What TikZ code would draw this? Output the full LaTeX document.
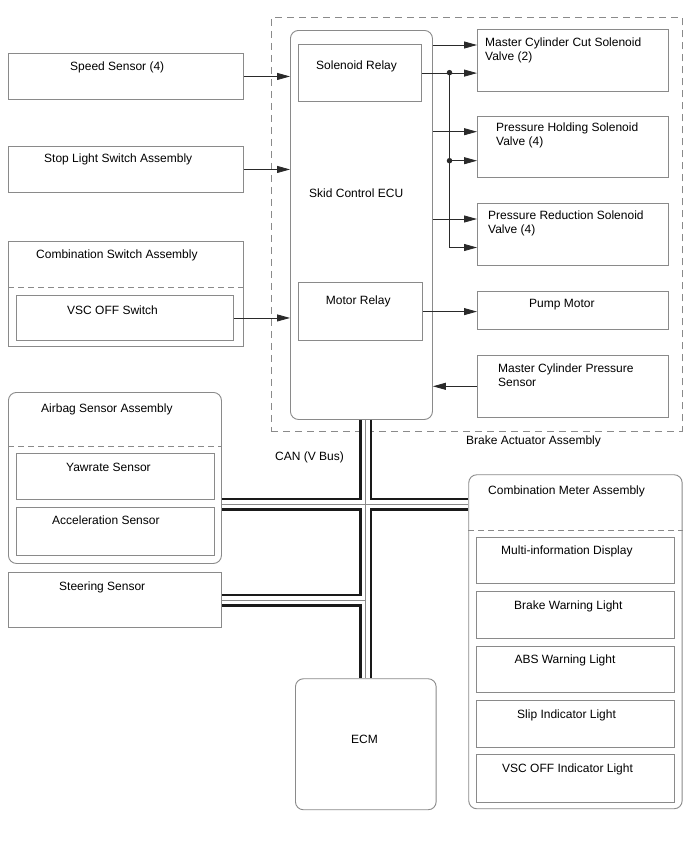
\documentclass[tikz,border=0pt]{standalone}
\usepackage{fontspec}
\setmainfont{Liberation Sans}
\usetikzlibrary{arrows.meta}
\definecolor{boxgray}{HTML}{8A8A8A}
\definecolor{wiregray}{HTML}{2A2A2A}
\definecolor{busblack}{HTML}{1A1A1A}
\tikzset{
  plainbox/.style={draw=boxgray, line width=0.9pt, anchor=north west, inner sep=0pt},
  roundbox/.style={plainbox, rounded corners=8pt},
  dashbox/.style={plainbox, dash pattern=on 7pt off 5pt},
  sepline/.style={draw=boxgray, line width=0.9pt, dash pattern=on 6pt off 4pt},
  lbl/.style={font=\fontsize{12}{14}\selectfont, inner sep=0pt, anchor=base west},
  mlbl/.style={lbl, anchor=north west, align=left},
  arr/.style={-{Triangle[length=13pt,width=7pt]}, line width=0.8pt, color=wiregray},
  jdot/.style={circle, fill=wiregray, inner sep=0pt, minimum size=5.5pt},
  busout/.style={line width=13pt, color=busblack},
  busin/.style={line width=8pt, color=white},
  busmid/.style={line width=0.7pt, color=boxgray}}
\begin{document}
\begin{tikzpicture}[x=1pt, y=-1pt]
        \path[use as bounding box, fill=white] (0,0) rectangle (688,852);
        % inputs on the left
        \node[plainbox, minimum width=235, minimum height=46] (speed) at (8,53) {};
        \node[lbl] (speedlbl) at (70,70.5) {Speed Sensor (4)};
        \node[plainbox, minimum width=235, minimum height=46] (stop) at (8,146) {};
        \node[lbl] (stoplbl) at (44,162.5) {Stop Light Switch Assembly};
        \node[plainbox, minimum width=235, minimum height=105] (combsw) at (8,240.5) {};
        \node[lbl] (combswlbl) at (36,258.5) {Combination Switch Assembly};
        \draw[sepline] ([yshift=-46.5pt]combsw.north west) -- ([yshift=-46.5pt]combsw.north east);
        \node[plainbox, minimum width=217, minimum height=45] (vscsw) at (16,295) {};
        \node[lbl] (vscswlbl) at (67,314) {VSC OFF Switch};
        % brake actuator
        \node[dashbox, minimum width=410.5, minimum height=413.5] (actuator) at (271,17) {};
        \node[lbl] (actuatorlbl) at (466,444.5) {Brake Actuator Assembly};
        \node[roundbox, minimum width=142, minimum height=389] (ecu) at (290,30) {};
        \node[lbl] (eculbl) at (309,197) {Skid Control ECU};
        \node[plainbox, minimum width=122.7, minimum height=56.7] (solrelay) at (298.3,44.3) {};
        \node[lbl] (solrelaylbl) at (316,69.5) {Solenoid Relay};
        \node[plainbox, minimum width=123.4, minimum height=57.7] (motorrelay) at (298.3,282.3) {};
        \node[lbl] (motorrelaylbl) at (325.7,304.3) {Motor Relay};
        \node[plainbox, minimum width=190.5, minimum height=62] (mccut) at (477,29) {};
        \node[mlbl] (mccutlbl) at (485,37.2) {Master Cylinder Cut Solenoid\\Valve (2)};
        \node[plainbox, minimum width=190.5, minimum height=61] (phold) at (477,115.7) {};
        \node[mlbl] (pholdlbl) at (496,122.8) {Pressure Holding Solenoid\\Valve (4)};
        \node[plainbox, minimum width=191, minimum height=62.3] (pred) at (476.5,202.7) {};
        \node[mlbl] (predlbl) at (488,210.5) {Pressure Reduction Solenoid\\Valve (4)};
        \node[plainbox, minimum width=190.7, minimum height=38] (pump) at (477,290.7) {};
        \node[lbl] (pumplbl) at (529,307.6) {Pump Motor};
        \node[plainbox, minimum width=190.7, minimum height=61.7] (mcps) at (477,355) {};
        \node[mlbl] (mcpslbl) at (498,363.8) {Master Cylinder Pressure\\Sensor};
        % CAN side
        \node[roundbox, minimum width=213, minimum height=171] (airbag) at (8,392) {};
        \node[lbl] (airbaglbl) at (41,412.6) {Airbag Sensor Assembly};
        \draw[sepline] ([yshift=-54pt]airbag.north west) -- ([yshift=-54pt]airbag.north east);
        \node[plainbox, minimum width=198.5, minimum height=46] (yaw) at (15.5,453) {};
        \node[lbl] (yawlbl) at (66,471.6) {Yawrate Sensor};
        \node[plainbox, minimum width=198.5, minimum height=47.7] (accel) at (15.5,507.3) {};
        \node[lbl] (accellbl) at (52,524.3) {Acceleration Sensor};
        \node[plainbox, minimum width=213, minimum height=54.7] (steer) at (8,572.3) {};
        \node[lbl] (steerlbl) at (59,590.3) {Steering Sensor};
        \node[lbl] (canlbl) at (275,460) {CAN (V Bus)};
        \node[roundbox, minimum width=140.7, minimum height=131] (ecm) at (295,678.3) {};
        \node[lbl] (ecmlbl) at (351,743.3) {ECM};
        \node[roundbox, minimum width=213.4, minimum height=334] (meter) at (468.3,474.3) {};
        \node[lbl] (meterlbl) at (488,494.3) {Combination Meter Assembly};
        \draw[sepline] ([yshift=-55.7pt]meter.north west) -- ([yshift=-55.7pt]meter.north east);
        \node[plainbox, minimum width=198.3, minimum height=46] (mid) at (476,537.3) {};
        \node[lbl] (midlbl) at (501,554.3) {Multi-information Display};
        \node[plainbox, minimum width=198.3, minimum height=47] (brakewarn) at (476,591) {};
        \node[lbl] (brakewarnlbl) at (514,609.3) {Brake Warning Light};
        \node[plainbox, minimum width=198.3, minimum height=46.3] (abs) at (476,646) {};
        \node[lbl] (abslbl) at (514.3,663.3) {ABS Warning Light};
        \node[plainbox, minimum width=198.3, minimum height=47.3] (slip) at (476,700) {};
        \node[lbl] (sliplbl) at (517,718.3) {Slip Indicator Light};
        \node[plainbox, minimum width=198.3, minimum height=47.4] (vscind) at (476,754.3) {};
        \node[lbl] (vscindlbl) at (502,772.6) {VSC OFF Indicator Light};
        % signal wires
        \draw[arr] (speed.east) -- (ecu.west |- speed.east);
        \draw[arr] (stop.east) -- (ecu.west |- stop.east);
        \draw[arr] (vscsw.east) -- (ecu.west |- vscsw.east);
        \coordinate (mccutin) at (477,45);
        \coordinate (pholdin) at (477,131.7);
        \coordinate (predin) at (477,219);
        \coordinate (predlow) at (477,247.5);
        \node[jdot] (j1) at (449.5,72.65) {};
        \node[jdot] (j2) at (449.5,160.7) {};
        \draw[arr] (ecu.east |- mccutin) -- (mccutin);
        \draw[arr] (solrelay.east) -- (mccut.west |- solrelay.east);
        \draw[arr] (ecu.east |- pholdin) -- (pholdin);
        \draw[arr] (j2.center) -- (phold.west |- j2.center);
        \draw[arr] (ecu.east |- predin) -- (predin);
        \draw[arr] (j1.center) |- (predlow);
        \draw[arr] (motorrelay.east) -- (pump.west |- motorrelay.east);
        \draw[arr] (mcps.west) -- (ecu.east |- mcps.west);
        % CAN bus
        \coordinate (canx) at (365.4,504);
        \coordinate (canlow) at (365.4,600);
        \foreach \layer in {busout,busin,busmid}{
          \draw[\layer] (ecm.north |- ecu.south) -- (ecm.north);
          \draw[\layer] (airbag.east |- canx) -- (meter.west |- canx);
          \draw[\layer] (steer.east |- canlow) -- (canlow);
        }
      \end{tikzpicture}
\end{document}
